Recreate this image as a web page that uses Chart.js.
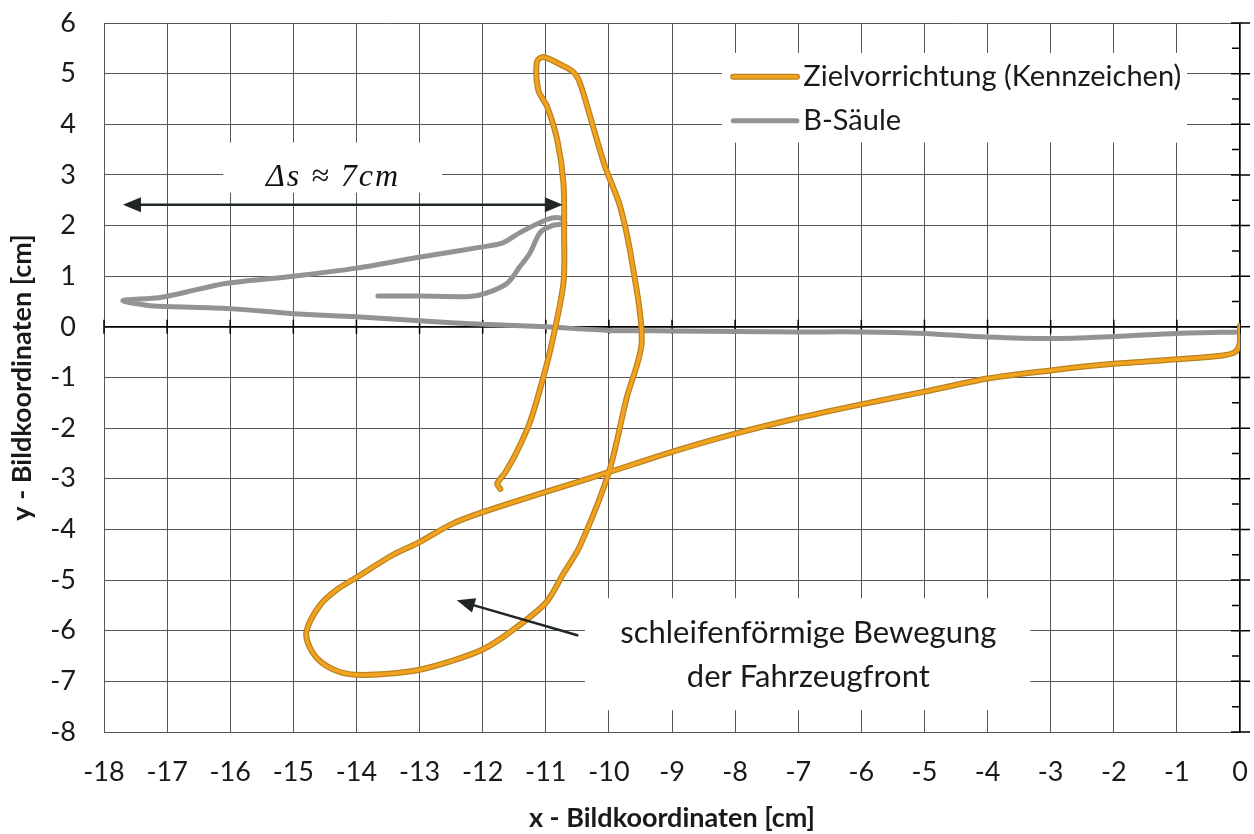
<!DOCTYPE html>
<html>
<head>
<meta charset="utf-8">
<script src="https://cdn.jsdelivr.net/npm/chart.js@4.4.1/dist/chart.umd.min.js"></script>
<style>
  html, body { margin: 0; padding: 0; background: #fff; }
  #chart { display: block; }
</style>
</head>
<body>
<canvas id="chart" width="1254" height="834"></canvas>
<script>
// ---------- Data ---------- //
const xRange = [-18, 0];
const yRange = [-8, 6];

// Zielvorrichtung (Kennzeichen) - orange trace
const targetX = [0, 0, -0.08, -0.3, -1, -2, -3, -4, -5, -6, -7, -8, -9, -10, -11, -12, -12.5, -13, -13.42, -14, -14.31, -14.58, -14.79, -14.75, -14.58, -14.3, -14, -13.5, -13, -12.5, -12, -11.57, -11, -10.72, -10.46, -10, -9.72, -9.48, -9.62, -9.82, -10.06, -10.25, -10.46, -10.57, -10.8, -11.04, -11.14, -11.12, -10.98, -10.82, -10.72, -10.71, -10.72, -10.9, -11.06, -11.25, -11.46, -11.64, -11.77, -11.72];
const targetY = [0.02, -0.3, -0.5, -0.57, -0.64, -0.73, -0.86, -1.02, -1.28, -1.53, -1.8, -2.11, -2.47, -2.87, -3.26, -3.66, -3.9, -4.25, -4.5, -4.95, -5.19, -5.5, -6.0, -6.3, -6.6, -6.8, -6.87, -6.85, -6.77, -6.6, -6.37, -6.03, -5.45, -4.87, -4.33, -2.87, -1.41, -0.3, 1.18, 2.37, 3.16, 3.95, 4.82, 5.04, 5.2, 5.33, 5.24, 4.68, 4.35, 3.7, 2.84, 1.86, 0.87, -0.3, -1.09, -1.88, -2.47, -2.87, -3.1, -3.2];

// B-Säule - grey trace
const pillarX = [-13.66, -12.99, -12.2, -11.93, -11.61, -11.41, -11.25, -11.09, -10.9, -10.7, -10.77, -10.98, -11.41, -11.68, -12, -12.99, -14, -15, -16.05, -16.48, -17.11, -17.7, -17.3, -17, -16, -15, -14, -13, -12, -11, -10, -9, -8, -7, -6, -5, -4, -3, -2, -1, 0];
const pillarY = [0.61, 0.61, 0.6, 0.67, 0.86, 1.19, 1.46, 1.86, 2.0, 2.05, 2.15, 2.12, 1.86, 1.66, 1.58, 1.38, 1.16, 1.0, 0.86, 0.75, 0.58, 0.52, 0.42, 0.4, 0.36, 0.26, 0.2, 0.12, 0.05, 0, -0.07, -0.08, -0.09, -0.1, -0.1, -0.13, -0.2, -0.23, -0.19, -0.13, -0.1];

const seriesNames = ["Zielvorrichtung (Kennzeichen)", "B-Säule"];
const seriesColors = ["#F2A31E", "#939393"];

function toPoints(xs, ys) {
  return xs.map((x, i) => ({ x, y: ys[i] }));
}

const FONT = "Lato, 'Open Sans', sans-serif";
const GRID = "#555";
const OUTLINE = "#b98222";

// ---------- Annotations, legend and axis ticks ---------- //
function arrowHead(ctx, fromX, fromY, toX, toY, len, half) {
  const a = Math.atan2(toY - fromY, toX - fromX);
  ctx.beginPath();
  ctx.moveTo(toX, toY);
  ctx.lineTo(toX - len * Math.cos(a) + half * Math.sin(a), toY - len * Math.sin(a) - half * Math.cos(a));
  ctx.lineTo(toX - len * Math.cos(a) - half * Math.sin(a), toY - len * Math.sin(a) + half * Math.cos(a));
  ctx.closePath();
  ctx.fill();
}

const annotations = {
  id: "annotations",
  beforeDatasetsDraw(chart) {
    const { ctx, scales: { x, y } } = chart;
    const px = (v) => x.getPixelForValue(v);
    const py = (v) => y.getPixelForValue(v);
    ctx.save();

    // white boxes that hide the grid behind the texts
    ctx.fillStyle = "#fff";
    const boxes = [
      [-8.21, 5.41, -0.84, 3.64],
      [-16.11, 3.64, -12.64, 2.65],
      [-10.38, -5.36, -3.32, -7.57],
    ];
    boxes.forEach(([x1, y1, x2, y2]) => {
      ctx.fillRect(px(x1), py(y1), px(x2) - px(x1), py(y2) - py(y1));
    });

    // tick marks where the axes cross
    ctx.strokeStyle = "#000";
    ctx.lineWidth = 1.5;
    const y0 = py(0);
    const x0 = px(0);
    ctx.beginPath();
    for (let v = xRange[0]; v <= xRange[1]; v++) {
      ctx.moveTo(px(v), y0 - 7);
      ctx.lineTo(px(v), y0 + 7);
    }
    for (let v = yRange[0]; v <= yRange[1]; v++) {
      ctx.moveTo(x0 - 9, py(v));
      ctx.lineTo(x0 + 10, py(v));
      if (v < yRange[1]) {
        ctx.moveTo(x0 - 8, py(v + 0.5));
        ctx.lineTo(x0, py(v + 0.5));
      }
    }
    ctx.stroke();
    ctx.restore();
  },
  afterDatasetsDraw(chart) {
    const { ctx, scales: { x, y } } = chart;
    const px = (v) => x.getPixelForValue(v);
    const py = (v) => y.getPixelForValue(v);
    ctx.save();

    // legend
    const legendRows = [4.94, 4.07];
    seriesNames.forEach((name, i) => {
      const ly = py(legendRows[i]);
      ctx.lineCap = "round";
      if (i === 0) {
        ctx.strokeStyle = OUTLINE;
        ctx.lineWidth = 6;
        ctx.beginPath();
        ctx.moveTo(px(-8.03), ly);
        ctx.lineTo(px(-7.02), ly);
        ctx.stroke();
        ctx.lineWidth = 3.5;
      } else {
        ctx.lineWidth = 5;
      }
      ctx.strokeStyle = seriesColors[i];
      ctx.beginPath();
      ctx.moveTo(px(-8.03), ly);
      ctx.lineTo(px(-7.02), ly);
      ctx.stroke();
      ctx.fillStyle = "#1a1a1a";
      ctx.font = "29px " + FONT;
      ctx.textAlign = "left";
      ctx.textBaseline = "middle";
      ctx.fillText(name, px(-6.92), ly);
    });

    // double arrow with the distance label
    ctx.strokeStyle = "#1e2626";
    ctx.fillStyle = "#1e2626";
    ctx.lineWidth = 2.5;
    const ay = py(2.41);
    ctx.beginPath();
    ctx.moveTo(px(-17.7) + 10, ay);
    ctx.lineTo(px(-10.73) - 10, ay);
    ctx.stroke();
    arrowHead(ctx, px(-10.73), ay, px(-17.7), ay, 18, 7.5);
    arrowHead(ctx, px(-17.7), ay, px(-10.73), ay, 18, 7.5);

    ctx.fillStyle = "#111";
    ctx.font = "italic 32px 'Liberation Serif', 'DejaVu Serif', serif";
    ctx.letterSpacing = "2px";
    ctx.textAlign = "center";
    ctx.textBaseline = "middle";
    ctx.fillText("Δs ≈ 7cm", px(-14.37), py(2.94));
    ctx.letterSpacing = "0px";

    // loop arrow with text
    ctx.strokeStyle = "#1e2626";
    ctx.fillStyle = "#1e2626";
    ctx.lineWidth = 2.5;
    const sx = px(-10.5), sy = py(-6.09), ex = px(-12.41), ey = py(-5.4);
    const a = Math.atan2(ey - sy, ex - sx);
    ctx.beginPath();
    ctx.moveTo(sx, sy);
    ctx.lineTo(ex - 10 * Math.cos(a), ey - 10 * Math.sin(a));
    ctx.stroke();
    arrowHead(ctx, sx, sy, ex, ey, 18, 7.5);

    ctx.fillStyle = "#1a1a1a";
    ctx.font = "31px " + FONT;
    ctx.fillText("schleifenförmige Bewegung", px(-6.84), py(-6.05));
    ctx.fillText("der Fahrzeugfront", px(-6.84), py(-6.92));
    ctx.restore();
  },
};

// ---------- Chart ---------- //
const ctx = document.getElementById("chart");

const lineStyle = {
  showLine: true,
  pointRadius: 0,
  tension: 0.3,
  borderCapStyle: "round",
  borderJoinStyle: "round",
};

new Chart(ctx, {
  type: "scatter",
  data: {
    datasets: [
      {
        ...lineStyle,
        label: seriesNames[0],
        data: toPoints(targetX, targetY),
        borderColor: seriesColors[0],
        borderWidth: 3.5,
      },
      {
        ...lineStyle,
        label: "outline",
        data: toPoints(targetX, targetY),
        borderColor: OUTLINE,
        borderWidth: 6,
      },
      {
        ...lineStyle,
        label: seriesNames[1],
        data: toPoints(pillarX, pillarY),
        borderColor: seriesColors[1],
        borderWidth: 5,
      },
    ],
  },
  options: {
    responsive: false,
    animation: false,
    devicePixelRatio: 1,
    layout: { padding: { top: 23, right: 14, left: 0, bottom: 0 } },
    plugins: {
      legend: { display: false },
      tooltip: { enabled: false },
    },
    scales: {
      x: {
        type: "linear",
        min: xRange[0],
        max: xRange[1],
        ticks: {
          stepSize: 1,
          padding: 24,
          color: "#1a1a1a",
          font: { family: FONT, size: 27 },
        },
        grid: {
          drawTicks: false,
          color: (c) => (c.tick && c.tick.value === 0 ? "#000" : GRID),
          lineWidth: (c) => (c.tick && c.tick.value === 0 ? 1.7 : 1),
        },
        border: { color: GRID, width: 1 },
        title: {
          display: true,
          text: "x - Bildkoordinaten [cm]",
          color: "#1a1a1a",
          font: { family: FONT, size: 27, weight: "bold" },
          padding: { top: 0, bottom: 0 },
        },
        afterFit: (scale) => {
          scale.height = 102;
          scale.paddingLeft = 0;
          scale.paddingRight = 0;
        },
      },
      y: {
        type: "linear",
        min: yRange[0],
        max: yRange[1],
        ticks: {
          stepSize: 1,
          padding: 28,
          color: "#1a1a1a",
          font: { family: FONT, size: 27 },
        },
        grid: {
          drawTicks: false,
          color: (c) => (c.tick && c.tick.value === 0 ? "#000" : GRID),
          lineWidth: (c) => (c.tick && c.tick.value === 0 ? 1.7 : 1),
        },
        border: { color: GRID, width: 1 },
        title: {
          display: true,
          text: "y - Bildkoordinaten [cm]",
          color: "#1a1a1a",
          font: { family: FONT, size: 27, weight: "bold" },
          padding: { top: 6, bottom: 0 },
        },
        afterFit: (scale) => {
          scale.width = 104;
          scale.paddingTop = 0;
          scale.paddingBottom = 0;
        },
      },
    },
  },
  plugins: [annotations],
});
</script>
</body>
</html>
